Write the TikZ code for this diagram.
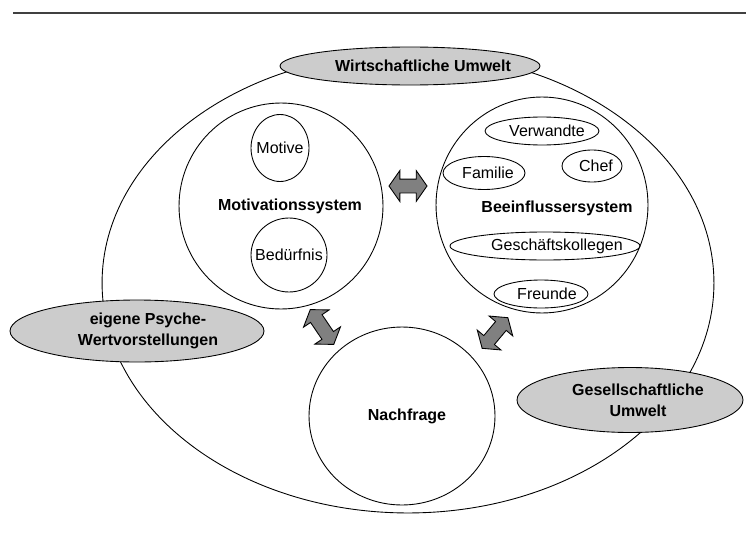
\documentclass[tikz,border=0pt]{standalone}
\usepackage{fontspec}
\setmainfont{Liberation Sans}
\usetikzlibrary{shapes.geometric,shapes.arrows}

\begin{document}
\begin{tikzpicture}[x=0.02cm,y=-0.02cm,
    font=\fontsize{9.1}{11}\selectfont,
    ring/.style={ellipse,draw,line width=0.5pt,inner sep=0pt},
    umwelt/.style={ring,fill=gray!40},
    fett/.style={font=\fontsize{9.1}{12}\selectfont\bfseries,align=center},
    wechsel/.style={double arrow,draw,fill=gray,line width=0.5pt,inner sep=0.13cm,
      double arrow head extend=0.17cm,double arrow tip angle=110}]
  % Frame
  \useasboundingbox (0,0) rectangle (746,537);
  \draw[line width=1.2pt,black!75] (13,13) -- (746,13);

  % Outer ring
  \node[ring,minimum width=12.24cm,minimum height=9.2cm] (umfeld) at (408,283) {};

  % Environments
  \node[umwelt,minimum width=5.2cm,minimum height=0.76cm,
    label={[fett,xshift=0.26cm]center:Wirtschaftliche Umwelt}] (wirtschaft) at (410,66) {};
  \node[umwelt,minimum width=5.08cm,minimum height=1.24cm,
    label={[fett,xshift=0.22cm]center:{eigene Psyche-\\Wertvorstellungen}}] (psyche) at (137,331) {};
  \node[umwelt,minimum width=4.52cm,minimum height=1.3cm,
    label={[fett,xshift=0.16cm]center:{Gesellschaftliche\\Umwelt}}] (gesellschaft) at (630,400) {};

  % Motivation
  \node[ring,minimum width=4.08cm,minimum height=4.12cm,
    label={[fett,xshift=0.18cm]center:Motivationssystem}] (motiv) at (281,206) {};
  \node[ring,minimum width=1.16cm,minimum height=1.34cm,label=center:Motive] (motive) at (280,148) {};
  \node[ring,minimum width=1.52cm,minimum height=1.48cm,label=center:Bedürfnis] (beduerfnis) at (289,255) {};

  % Influencers
  \node[ring,minimum width=4.24cm,minimum height=4.32cm,
    label={[fett,xshift=0.3cm,yshift=-0.06cm]center:Beeinflussersystem}] (beein) at (542,205) {};
  \node[ring,minimum width=2.28cm,minimum height=0.56cm,label={[xshift=0.1cm]center:Verwandte}] (verwandte) at (542,131) {};
  \node[ring,minimum width=1.64cm,minimum height=0.66cm,label={[xshift=0.08cm]center:Familie}] (familie) at (484,173) {};
  \node[ring,minimum width=1.2cm,minimum height=0.64cm,label={[xshift=0.08cm]center:Chef}] (chef) at (592,166) {};
  \node[ring,minimum width=3.8cm,minimum height=0.56cm,label={[xshift=0.24cm]center:Geschäftskollegen}] (kollegen) at (545,246) {};
  \node[ring,minimum width=1.88cm,minimum height=0.56cm,label={[xshift=0.12cm]center:Freunde}] (freunde) at (541,294) {};

  % Demand
  \node[ring,minimum width=3.72cm,minimum height=3.56cm,
    label={[fett,xshift=0.1cm]center:Nachfrage}] (nachfrage) at (402,416) {};

  % Interactions
  \node[wechsel,minimum height=0.76cm] (w1) at (408,186) {};
  \node[wechsel,minimum height=0.84cm,rotate=-56] (w2) at (322,327) {};
  \node[wechsel,minimum height=0.8cm,rotate=50] (w3) at (495,333) {};
\end{tikzpicture}
\end{document}
